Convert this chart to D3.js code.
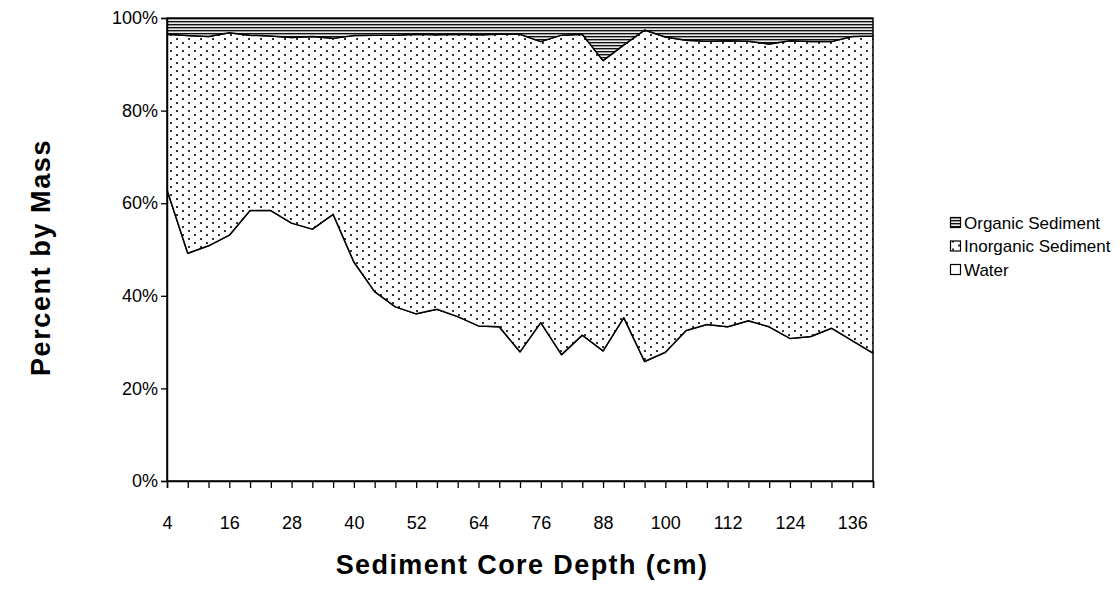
<!DOCTYPE html>
<html>
<head>
<meta charset="utf-8">
<script src="https://cdn.jsdelivr.net/npm/d3@7"></script>
<style>
  html, body { margin: 0; padding: 0; background: #fff; }
  svg { display: block; }
  text { font-family: "Liberation Sans", Arial, sans-serif; fill: #000; }
</style>
</head>
<body>
<svg id="chart" width="1120" height="593"></svg>
<script>
// ---------- data ----------
const depths = [4, 8, 12, 16, 20, 24, 28, 32, 36, 40, 44, 48, 52, 56, 60, 64, 68, 72,
                76, 80, 84, 88, 92, 96, 100, 104, 108, 112, 116, 120, 124, 128, 132, 136, 140];
const depthLabels = [4, 16, 28, 40, 52, 64, 76, 88, 100, 112, 124, 136];
const water = [62.9, 49.2, 50.8, 53.1, 58.4, 58.4, 55.7, 54.4, 57.6, 47.3, 40.9, 37.6,
               36.1, 37.1, 35.5, 33.5, 33.3, 27.9, 34.2, 27.3, 31.5, 28.1, 35.3, 25.8,
               27.8, 32.5, 33.8, 33.3, 34.6, 33.3, 30.8, 31.2, 33.0, 30.3, 27.6];
const inorganic = [33.6, 47.0, 45.2, 43.7, 37.9, 37.7, 40.1, 41.6, 38.0, 48.9, 55.4, 58.7,
                   60.4, 59.3, 61.0, 62.9, 63.2, 68.6, 60.7, 69.0, 65.0, 62.7, 58.9, 71.6,
                   68.1, 62.7, 61.2, 61.8, 60.4, 61.1, 64.3, 63.7, 61.9, 65.7, 68.5];
const organic = [3.5, 3.8, 4.0, 3.2, 3.7, 3.9, 4.2, 4.0, 4.4, 3.8, 3.7, 3.7,
                 3.5, 3.6, 3.5, 3.6, 3.5, 3.5, 5.1, 3.7, 3.5, 9.2, 5.8, 2.6,
                 4.1, 4.8, 5.0, 4.9, 5.0, 5.6, 4.9, 5.1, 5.1, 4.0, 3.9];
const yTicks = [0, 20, 40, 60, 80, 100];
const seriesNames = ["Water", "Inorganic Sediment", "Organic Sediment"];
const legendOrder = ["Organic Sediment", "Inorganic Sediment", "Water"];

// ---------- layout ----------
const svg = d3.select("#chart");
const L = 167, R = 873, T = 18, B = 481;

const rows = depths.map((d, i) => ({
  depth: d,
  "Water": water[i],
  "Inorganic Sediment": inorganic[i],
  "Organic Sediment": organic[i]
}));

const stack = d3.stack().keys(seriesNames).offset(d3.stackOffsetExpand);
const layers = stack(rows);

const x = d3.scalePoint().domain(depths).range([L, R]);
const y = d3.scaleLinear().domain([0, 1]).range([B, T]);

// ---------- patterns ----------
const defs = svg.append("defs");
const dots = defs.append("pattern").attr("id", "dots")
  .attr("patternUnits", "userSpaceOnUse").attr("width", 12).attr("height", 8);
dots.append("rect").attr("width", 12).attr("height", 8).attr("fill", "#fff");
dots.append("rect").attr("x", 2).attr("y", 2).attr("width", 2).attr("height", 2).attr("fill", "#333");
dots.append("rect").attr("x", 8).attr("y", 6).attr("width", 2).attr("height", 2).attr("fill", "#333");

const stripes = defs.append("pattern").attr("id", "stripes")
  .attr("patternUnits", "userSpaceOnUse").attr("width", 8).attr("height", 3);
stripes.append("rect").attr("width", 8).attr("height", 3).attr("fill", "#fff");
stripes.append("rect").attr("y", 0).attr("width", 8).attr("height", 1.4).attr("fill", "#111");
stripes.append("rect").attr("y", 1.4).attr("width", 8).attr("height", 0.8).attr("fill", "#999");

const fills = {
  "Water": "#fff",
  "Inorganic Sediment": "url(#dots)",
  "Organic Sediment": "url(#stripes)"
};

// ---------- areas ----------
const area = d3.area()
  .x(d => x(d.data.depth))
  .y0(d => y(d[0]))
  .y1(d => y(d[1]));

svg.append("g").selectAll("path")
  .data(layers)
  .join("path")
  .attr("d", area)
  .attr("fill", d => fills[d.key])
  .attr("stroke", "#000")
  .attr("stroke-width", 1.5)
  .attr("stroke-linejoin", "round");

// ---------- axes ----------
const yAxis = d3.axisLeft(y)
  .tickValues(yTicks.map(v => v / 100))
  .tickFormat(d3.format(".0%"))
  .tickSize(6).tickPadding(3);
const gy = svg.append("g").attr("transform", `translate(${L},0)`).call(yAxis);

const xAxis = d3.axisBottom(x)
  .tickValues(depths)
  .tickFormat(d => depthLabels.includes(d) ? d : "")
  .tickSize(7).tickPadding(27);
const gx = svg.append("g").attr("transform", `translate(0,${B})`).call(xAxis);

[gx, gy].forEach(g => {
  g.select(".domain").attr("stroke", "#000").attr("stroke-width", 1.5);
  g.selectAll(".tick line").attr("stroke", "#000").attr("stroke-width", 1.3);
  g.selectAll(".tick text")
    .style("font-family", '"Liberation Sans", Arial, sans-serif')
    .style("font-size", "18px").attr("fill", "#111");
});
gx.selectAll(".tick text").attr("dy", "0.35em").attr("y", 42);

// ---------- titles ----------
svg.append("text")
  .attr("x", (L + R) / 2 + 2).attr("y", 574)
  .attr("text-anchor", "middle")
  .style("font-size", "27px").style("font-weight", "bold")
  .style("letter-spacing", "1.4px")
  .text("Sediment Core Depth (cm)");

svg.append("text")
  .attr("transform", `translate(50,${(T + B) / 2 + 8}) rotate(-90)`)
  .attr("text-anchor", "middle")
  .style("font-size", "27px").style("font-weight", "bold")
  .style("letter-spacing", "1.6px")
  .text("Percent by Mass");

// ---------- legend ----------
const leg = svg.append("g").attr("transform", "translate(950,223)");
legendOrder.forEach((name, i) => {
  const g = leg.append("g").attr("transform", `translate(0,${i * 23.5})`);
  g.append("rect").attr("x", 0.5).attr("y", -5.5).attr("width", 10).attr("height", 10)
    .attr("fill", fills[name]).attr("stroke", "#000").attr("stroke-width", 1.2);
  g.append("text").attr("x", 14).attr("y", 0).attr("dy", "0.35em")
    .style("font-size", "17px").attr("fill", "#111")
    .text(name);
});
</script>
</body>
</html>
